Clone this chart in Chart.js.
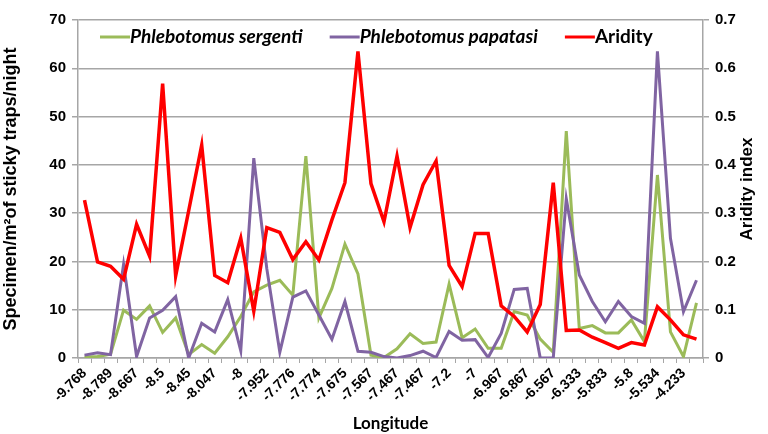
<!DOCTYPE html>
<html>
<head>
<meta charset="utf-8">
<script src="https://cdn.jsdelivr.net/npm/chart.js@4"></script>
<style>
  html, body { margin: 0; padding: 0; background: #fff; }
  #wrap { width: 768px; height: 434px; position: relative; }
</style>
</head>
<body>
<div id="wrap"><canvas id="chart"></canvas></div>
<script>
// longitudes: only every other label is printed in the original, the rest are left blank
const longitudes = [
  '-9.768', '', '-8.789', '', '-8.667', '', '-8.5', '', '-8.45', '', '-8.047', '',
  '-8', '', '-7.952', '', '-7.776', '', '-7.774', '', '-7.675', '', '-7.567', '',
  '-7.467', '', '-7.467', '', '-7.2', '', '-7', '', '-6.967', '', '-6.867', '',
  '-6.567', '', '-6.333', '', '-5.833', '', '-5.8', '', '-5.534', '', '-4.233', ''
];

const sergenti = [
  0.2, 0.3, 0.8, 9.9, 8.0, 10.8, 5.3, 8.3, 0.7, 2.8, 1.0, 4.4,
  8.6, 13.7, 15.1, 16.1, 13.0, 41.8, 8.3, 14.4, 23.6, 17.4, 0.6, 0.1,
  1.9, 5.0, 3.0, 3.3, 15.3, 4.2, 6.0, 2.0, 2.0, 9.6, 8.9, 3.9,
  1.2, 47.0, 6.1, 6.7, 5.2, 5.2, 7.9, 3.4, 37.9, 5.4, 0.3, 11.4
];

const papatasi = [
  0.6, 1.1, 0.7, 19.4, 0.3, 8.3, 9.9, 12.7, 0.0, 7.2, 5.4, 12.1,
  1.5, 41.4, 18.5, 1.2, 12.6, 13.9, 8.9, 3.9, 11.7, 1.4, 1.2, 0.3,
  0.0, 0.5, 1.4, 0.1, 5.5, 3.7, 3.8, 0.1, 5.1, 14.2, 14.4, 0.0,
  0.0, 33.0, 17.2, 11.7, 7.5, 11.7, 8.6, 7.2, 63.5, 24.8, 9.6, 16.1
];

const aridity = [
  0.327, 0.199, 0.190, 0.163, 0.277, 0.211, 0.568, 0.170, 0.305, 0.441, 0.171, 0.156,
  0.248, 0.097, 0.270, 0.260, 0.204, 0.241, 0.203, 0.286, 0.363, 0.635, 0.361, 0.282,
  0.418, 0.270, 0.359, 0.408, 0.192, 0.148, 0.258, 0.258, 0.108, 0.086, 0.054, 0.111,
  0.363, 0.057, 0.058, 0.043, 0.032, 0.020, 0.032, 0.027, 0.106, 0.079, 0.048, 0.039
];

const leftTicks = [0, 10, 20, 30, 40, 50, 60, 70];

const gridGrey = '#a6a6a6';
const tickFont = { family: 'Liberation Sans', weight: 'bold', size: 15 };

// legend drawn inside the plot (species names in italics) + right axis title read bottom-to-top
const extras = {
  id: 'extras',
  afterDraw(chart) {
    const ctx = chart.ctx;
    const area = chart.chartArea;
    const items = [
      { text: 'Phlebotomus sergenti', color: '#9bbb59', italic: true },
      { text: 'Phlebotomus papatasi', color: '#8064a2', italic: true },
      { text: 'Aridity', color: '#ff0000', italic: false }
    ];
    let x = area.left + 22;
    const y = area.top + 17;
    ctx.save();
    ctx.textBaseline = 'middle';
    items.forEach(it => {
      ctx.strokeStyle = it.color;
      ctx.lineWidth = 3;
      ctx.beginPath();
      ctx.moveTo(x, y);
      ctx.lineTo(x + 30, y);
      ctx.stroke();
      x += 30;
      ctx.font = (it.italic ? 'italic ' : '') + 'bold 19px Lato';
      ctx.fillStyle = '#000';
      ctx.fillText(it.text, x, y);
      x += ctx.measureText(it.text).width + 27;
    });

    ctx.translate(area.right + 44, (area.top + area.bottom) / 2);
    ctx.rotate(-Math.PI / 2);
    ctx.textAlign = 'center';
    ctx.font = 'bold 17px "Liberation Sans"';
    ctx.fillText('Aridity index', 0, 0);
    ctx.restore();
  }
};

new Chart(document.getElementById('chart'), {
  type: 'line',
  data: {
    labels: longitudes,
    datasets: [
      { label: 'Phlebotomus sergenti', data: sergenti, yAxisID: 'y', borderColor: '#9bbb59', borderWidth: 3, order: 2 },
      { label: 'Phlebotomus papatasi', data: papatasi, yAxisID: 'y', borderColor: '#8064a2', borderWidth: 3, order: 1 },
      { label: 'Aridity', data: aridity, yAxisID: 'y1', borderColor: '#ff0000', borderWidth: 3.5, order: 0 }
    ]
  },
  options: {
    responsive: true,
    maintainAspectRatio: false,
    animation: false,
    layout: { padding: { top: 20, left: 0, right: 0, bottom: 0 } },
    elements: { point: { radius: 0 }, line: { tension: 0 } },
    plugins: { legend: { display: false }, tooltip: { enabled: false } },
    scales: {
      x: {
        offset: true,
        grid: { offset: true, drawOnChartArea: false, drawTicks: true, tickLength: 5, color: gridGrey },
        border: { color: gridGrey, width: 1.5 },
        ticks: { autoSkip: false, maxRotation: 45, minRotation: 45, padding: 2, color: '#000',
                 font: { family: 'Liberation Sans', weight: 'bold', size: 14 } },
        title: { display: true, text: 'Longitude', color: '#000',
                 font: { family: 'Lato', weight: 'bold', size: 17 }, padding: { top: 0, bottom: 0 } },
        afterFit: s => { s.height = 76; }
      },
      y: {
        position: 'left',
        min: 0, max: 70,
        afterBuildTicks: s => { s.ticks = leftTicks.map(v => ({ value: v })); },
        grid: { color: gridGrey, lineWidth: 1.5, tickLength: 6 },
        border: { color: gridGrey, width: 1.5 },
        ticks: { color: '#000', font: tickFont, padding: 6 },
        title: { display: true, text: 'Specimen/m²of sticky traps/night', color: '#000',
                 font: { family: 'Liberation Sans', weight: 'bold', size: 18 }, padding: 0 },
        afterFit: s => { s.width = 78; }
      },
      y1: {
        position: 'right',
        min: 0, max: 0.7,
        ticks: { stepSize: 0.1, color: '#000', font: tickFont, padding: 6,
                 callback: v => v === 0 ? '0' : v.toFixed(1) },
        grid: { drawOnChartArea: false, color: gridGrey, lineWidth: 1.5, tickLength: 6 },
        border: { color: gridGrey, width: 1.5 },
        afterFit: s => { s.width = 65; }
      }
    }
  },
  plugins: [extras]
});
</script>
</body>
</html>
